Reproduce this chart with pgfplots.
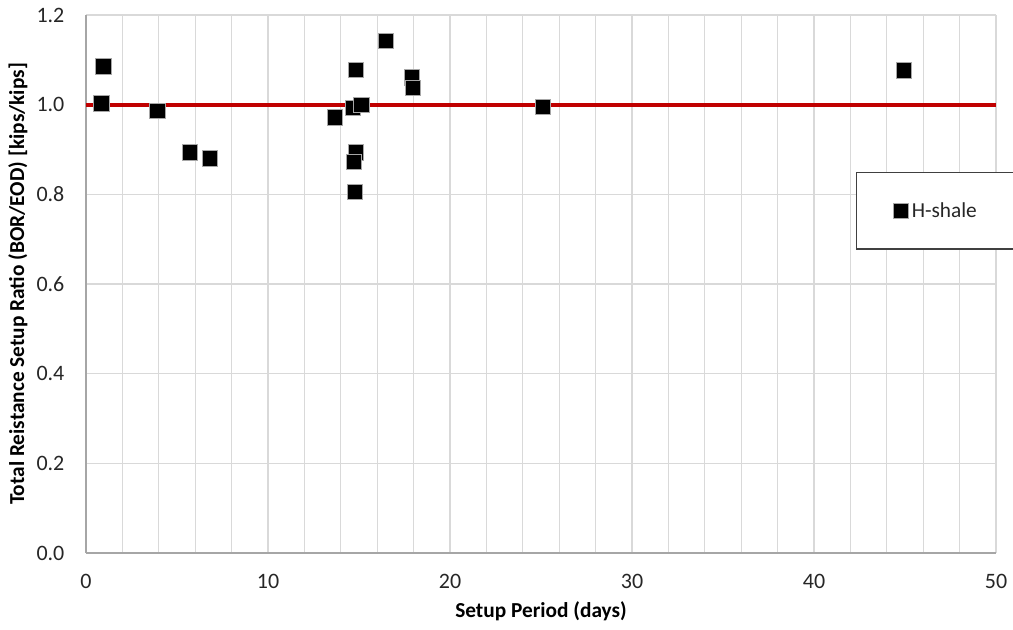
\documentclass[border=0pt]{standalone}
\usepackage{pgfplots}
\pgfplotsset{compat=1.18}
\usepackage{fontspec}
\setmainfont{Carlito}
\definecolor{gridc}{HTML}{D9D9D9}
\definecolor{axc}{HTML}{A6A6A6}
\definecolor{redl}{HTML}{C00000}
\definecolor{txt}{HTML}{262626}
\begin{document}
\begin{tikzpicture}
\useasboundingbox (-64.5pt,-57.75pt) rectangle (695.25pt,414.75pt);
\begin{axis}[
  at={(0,0)}, anchor=south west,
  scale only axis,
  width=682.5pt, height=403.5pt,
  xmin=0, xmax=50, ymin=0, ymax=1.2,
  xtick={0,10,...,50},
  minor xtick={0,2,...,50},
  ytick={0,0.2,...,1.2},
  grid=both,
  major grid style={gridc, line width=0.9pt},
  minor grid style={gridc, line width=0.9pt},
  axis x line*=bottom, axis y line*=left,
  axis line style={axc, line width=1.1pt, -},
  major tick length=0pt, minor tick length=0pt,
  font=\fontsize{16}{19}\selectfont,
  tick label style={font=\fontsize{16.5}{19}\selectfont, text=txt},
  /pgf/number format/assume math mode=true,
  yticklabel style={/pgf/number format/fixed, /pgf/number format/fixed zerofill, /pgf/number format/precision=1,
    inner sep=0pt, anchor=east, xshift=-16pt},
  xticklabel style={inner sep=0pt, anchor=north, yshift=-16pt},
  xlabel={\textbf{Setup Period (days)}},
  ylabel={\textbf{Total Reistance Setup Ratio (BOR/EOD) [kips/kips]}},
  xlabel style={font=\fontsize{16.5}{19}\selectfont, text=txt},
  ylabel style={font=\fontsize{15.4}{18}\selectfont, text=txt},
  every axis x label/.style={at={(rel axis cs:0.5,0)}, anchor=center, yshift=-44pt},
  every axis y label/.style={at={(rel axis cs:0,0.5)}, rotate=90, anchor=center, yshift=51pt},
  legend image code/.code={\draw[#1] plot coordinates {(0.25cm,0cm)};},
  legend style={at={(0.8459,0.7088)}, anchor=north west,
    draw=black!75, line width=0.8pt, fill=white,
    inner xsep=27.5pt, inner ysep=20pt,
    nodes={inner sep=2.5pt},
    font=\fontsize{16}{19}\selectfont, text=txt,
    legend cell align=left},
  clip=false,
]
\addplot[redl, line width=3pt, forget plot] coordinates {(0,1) (50,1)};
\addplot[only marks, mark=square*, mark size=5.8pt,
  mark options={fill=black, draw=black!35, line width=0.5pt}]
  coordinates {
  (0.95,1.085) (0.84,1.003) (3.92,0.986) (5.71,0.894) (6.81,0.880)
  (16.47,1.142) (14.84,1.078) (17.90,1.061) (17.97,1.038)
  (14.65,0.993) (15.13,1.000) (13.68,0.972)
  (14.84,0.894) (14.71,0.873) (14.78,0.805)
  (25.11,0.995) (44.95,1.077)
  };
\addlegendentry{H-shale}
\end{axis}
\end{tikzpicture}
\end{document}
